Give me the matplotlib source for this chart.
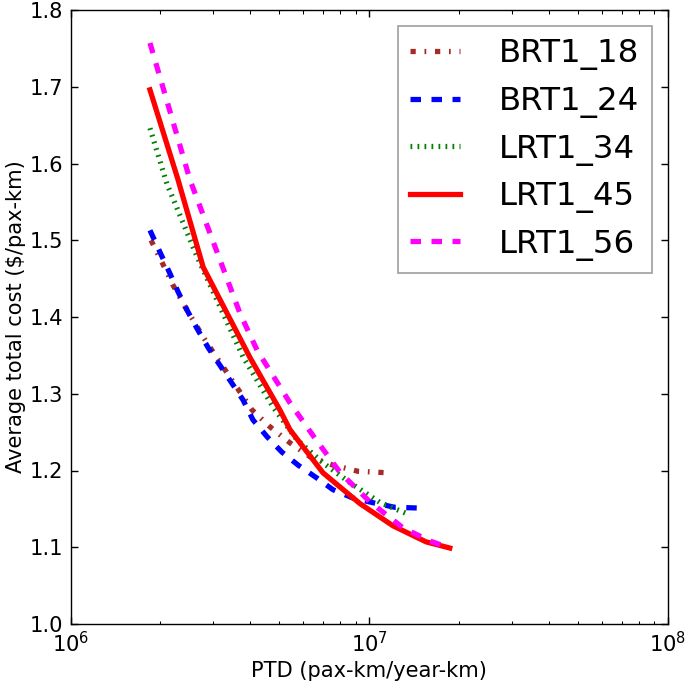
import matplotlib
matplotlib.use("Agg")
import matplotlib.pyplot as plt

# === Data ===
brt18_ptd = [1.86e6, 2.02e6, 2.20e6, 2.42e6, 2.78e6, 3.09e6, 4.05e6, 4.65e6,
             5.43e6, 6.33e6, 7.56e6, 9.16e6, 1.156e7]
brt18_cost = [1.500, 1.472, 1.442, 1.413, 1.374, 1.347, 1.279, 1.257,
              1.236, 1.218, 1.207, 1.199, 1.197]

brt24_ptd = [1.845e6, 1.99e6, 2.15e6, 2.29e6, 2.47e6, 2.67e6, 2.89e6, 3.78e6,
             4.08e6, 4.55e6, 5.10e6, 5.78e6, 6.69e6, 7.56e6, 8.83e6, 1.03e7,
             1.22e7, 1.50e7]
brt24_cost = [1.513, 1.485, 1.457, 1.433, 1.407, 1.383, 1.360, 1.292,
              1.266, 1.244, 1.224, 1.207, 1.190, 1.175, 1.164, 1.158,
              1.152, 1.151]

lrt34_ptd = [1.845e6, 2.10e6, 2.65e6, 3.78e6, 4.76e6, 5.73e6, 7.00e6, 8.63e6,
             1.09e7, 1.37e7]
lrt34_cost = [1.646, 1.574, 1.479, 1.348, 1.283, 1.240, 1.210, 1.184,
              1.158, 1.142]

lrt45_ptd = [1.845e6, 2.29e6, 2.78e6, 3.99e6, 5.02e6, 5.43e6, 7.00e6, 9.30e6,
             1.20e7, 1.55e7, 1.86e7]
lrt45_cost = [1.696, 1.579, 1.465, 1.347, 1.279, 1.253, 1.197, 1.157,
              1.128, 1.107, 1.099]

lrt56_ptd = [1.845e6, 2.51e6, 3.69e6, 4.21e6, 5.43e6, 6.58e6, 8.00e6, 1.006e7,
             1.30e7, 1.60e7, 1.86e7]
lrt56_cost = [1.757, 1.579, 1.405, 1.357, 1.288, 1.242, 1.197, 1.159,
              1.125, 1.108, 1.099]

# === Old-school matplotlib look ===
plt.rcParams.update({
    "xtick.direction": "in",
    "ytick.direction": "in",
    "xtick.top": True,
    "ytick.right": True,
    "xtick.major.size": 4,
    "ytick.major.size": 4,
    "xtick.minor.size": 2,
    "ytick.minor.size": 2,
    "xtick.major.pad": 4,
    "ytick.major.pad": 4,
    "lines.scale_dashes": False,
    "lines.dashed_pattern": [6, 6],
    "lines.dashdot_pattern": [3, 5, 1, 5],
    "lines.dotted_pattern": [1, 3],
    "font.size": 12,
})

DPI = 126
fig = plt.figure(figsize=(685 / DPI, 685 / DPI), dpi=DPI)
ax = fig.add_axes([70.5 / 685, 61 / 685, 597.5 / 685, 614 / 685])

ax.semilogx(brt18_ptd, brt18_cost, "-.", color="brown", lw=3, label="BRT1_18")
ax.semilogx(brt24_ptd, brt24_cost, "--", color="#0000FF", lw=3, label="BRT1_24")
ax.semilogx(lrt34_ptd, lrt34_cost, ":", color="#008000", lw=3, label="LRT1_34")
ax.semilogx(lrt45_ptd, lrt45_cost, "-", color="#FF0000", lw=3, label="LRT1_45")
ax.semilogx(lrt56_ptd, lrt56_cost, "--", color="#FF00FF", lw=3, label="LRT1_56")

ax.set_xlim(1e6, 1e8)
ax.set_ylim(1.0, 1.8)
ax.set_yticks([1.0, 1.1, 1.2, 1.3, 1.4, 1.5, 1.6, 1.7, 1.8])
ax.set_xlabel("PTD (pax-km/year-km)", fontsize=12, labelpad=3)
ax.set_ylabel("Average total cost ($/pax-km)", fontsize=12, labelpad=2)

leg = ax.legend(loc="upper right", fontsize=18.5, handlelength=1.55,
                handletextpad=1.2, fancybox=False, labelspacing=0.48,
                borderpad=0.38, borderaxespad=0.5)
leg.get_frame().set_edgecolor("0.55")

fig.savefig("out.png", dpi=DPI, facecolor="white")
